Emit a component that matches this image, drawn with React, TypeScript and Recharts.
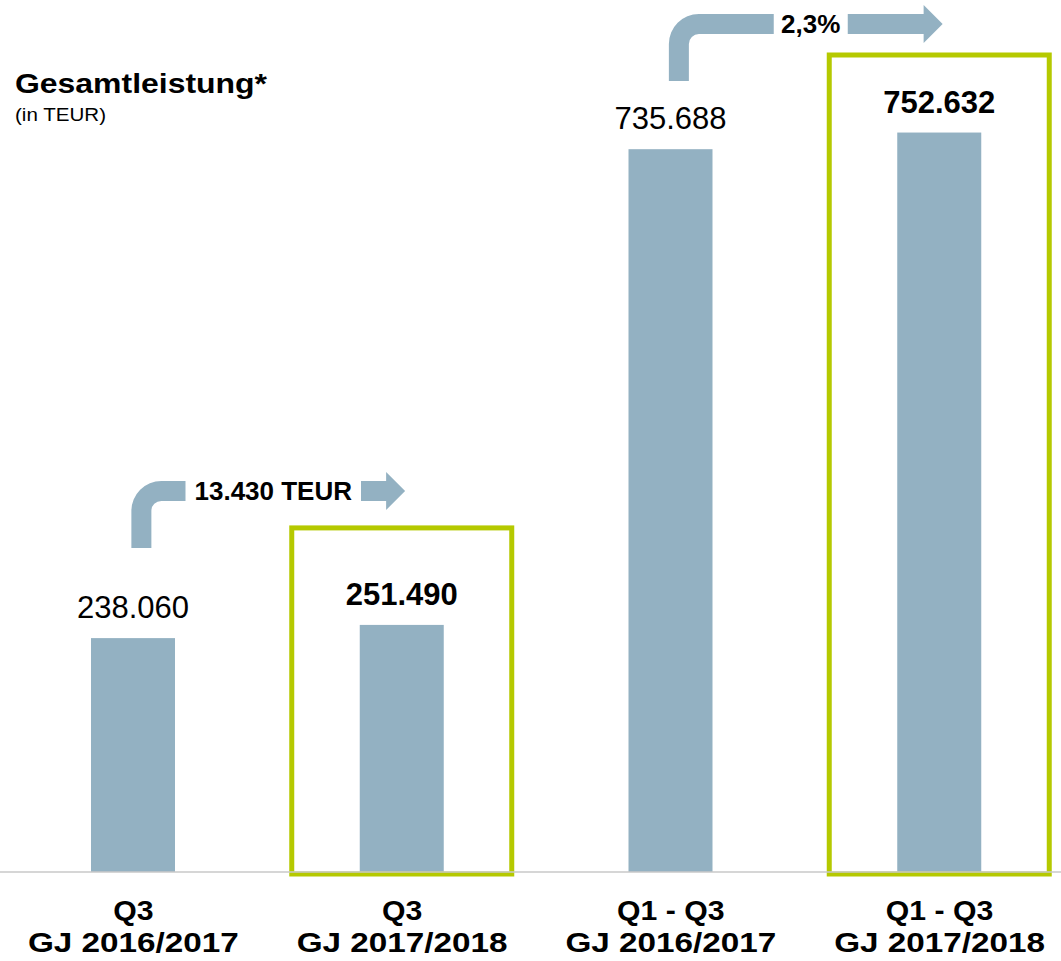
import { Bar, BarChart, XAxis, YAxis, ReferenceArea } from "recharts"

const categoryTop = ["Q3", "Q3", "Q1 - Q3", "Q1 - Q3"]
const categoryBottom = ["GJ 2016/2017", "GJ 2017/2018", "GJ 2016/2017", "GJ 2017/2018"]
const values = [238060, 251490, 735688, 752632]
const highlighted = [false, true, false, true]
const changePairs = [[0, 1], [2, 3]]
const changeLabels = ["13.430 TEUR", "2,3%"]
const yDomain = [0, 800000]

const BAR_COLOR = "#93b1c2"
const GREEN = "#b5c900"
const FONT = "'Liberation Sans', Arial, sans-serif"

const data = values.map((v, i) => ({
    name: categoryTop[i] + "\n" + categoryBottom[i],
    value: v,
    highlight: highlighted[i],
}))

const fmt = (v: number) => String(v).replace(/\B(?=(\d{3})+(?!\d))/g, ".")

const BarShape = (props: any) => {
    const { x, y, width, height, payload } = props
    const cx = x + width / 2
    const boxTop = Math.max(y - 97, 55)
    return (
        <g>
            <rect x={x} y={y} width={width} height={height} fill={BAR_COLOR} />
            {payload.highlight && (
                <rect x={cx - 110} y={boxTop} width={220} height={y + height + 2 - boxTop}
                    fill="none" stroke={GREEN} strokeWidth={5} />
            )}
            <text x={cx} y={y - 20} textAnchor="middle" fontSize={31} fontFamily={FONT}
                fontWeight={payload.highlight ? "bold" : "normal"} fill="#000">
                {fmt(payload.value)}
            </text>
        </g>
    )
}

const makeArrow = (vA: number, vB: number, label: string) => (props: any) => {
    const { x, y, width, height } = props
    const base = y + height
    const k = height / Math.max(vA, vB)
    const topA = base - vA * k
    const topB = base - vB * k
    const band = width / 2
    const sx = x + band / 2 + 8
    const tip = x + band * 1.5 + 3
    const mid = Math.max(24, Math.min(topA, topB) - 134)
    const bt = mid - 10
    const bb = mid + 10
    const stemBottom = bt + 67
    const R = 30
    const r = 10
    const head = tip - 19
    const d = [
        `M ${sx - 10} ${stemBottom}`,
        `L ${sx - 10} ${bt + R}`,
        `A ${R} ${R} 0 0 1 ${sx - 10 + R} ${bt}`,
        `L ${head} ${bt}`,
        `L ${head} ${mid - 19}`,
        `L ${tip} ${mid}`,
        `L ${head} ${mid + 19}`,
        `L ${head} ${bb}`,
        `L ${sx + 10 + r} ${bb}`,
        `A ${r} ${r} 0 0 0 ${sx + 10} ${bb + r}`,
        `L ${sx + 10} ${stemBottom}`,
        "Z",
    ].join(" ")
    const tx = (sx + tip) / 2
    const gap = label.length * 14.5 + 16
    return (
        <g>
            <path d={d} fill={BAR_COLOR} />
            <rect x={tx - gap / 2} y={bt - 1} width={gap} height={22} fill="#fff" />
            <text x={tx} y={mid + 9} textAnchor="middle" fontSize={26} fontWeight="bold"
                fontFamily={FONT} fill="#000">
                {label}
            </text>
        </g>
    )
}

const CategoryTick = (props: any) => {
    const { x, y, payload } = props
    const [top, bottom] = String(payload.value).split("\n")
    return (
        <g>
            <text x={x} y={y + 48} textAnchor="middle" fontSize={27} fontWeight="bold"
                fontFamily={FONT} fill="#000" transform={`translate(${x} 0) scale(1.12 1) translate(${-x} 0)`}>
                {top}
            </text>
            <text x={x} y={y + 80} textAnchor="middle" fontSize={27} fontWeight="bold"
                fontFamily={FONT} fill="#000" textLength={211} lengthAdjust="spacingAndGlyphs">
                {bottom}
            </text>
        </g>
    )
}

export default function App() {
    return (
        <div style={{ position: "absolute", left: 0, top: 0, width: 1061, height: 961, overflow: "hidden", background: "#fff" }}>
            <svg width={1061} height={961} style={{ position: "absolute", left: 0, top: 0, pointerEvents: "none" }}>
                <text x={15} y={93} fontSize={28} fontWeight="bold" fontFamily={FONT}
                    textLength={252} lengthAdjust="spacingAndGlyphs" fill="#000">
                    Gesamtleistung*
                </text>
                <text x={15} y={121} fontSize={18} fontFamily={FONT}
                    textLength={91} lengthAdjust="spacingAndGlyphs" fill="#000">
                    (in TEUR)
                </text>
            </svg>
            <div style={{ position: "absolute", left: -1, top: 0 }}>
                <BarChart width={1075} height={961} data={data}
                    margin={{ top: 86, right: 0, bottom: 0, left: 0 }}>
                    <XAxis dataKey="name" height={89} tickLine={false} tickSize={0} tickMargin={0}
                        axisLine={{ stroke: "#c8c8c8", strokeWidth: 1.5 }} tick={<CategoryTick />}
                        interval={0} />
                    <YAxis hide domain={yDomain} />
                    <Bar dataKey="value" barSize={84} shape={<BarShape />} isAnimationActive={false} />
                    {changePairs.map(([a, b], i) => (
                        <ReferenceArea key={i} x1={data[a].name} x2={data[b].name}
                            y1={0} y2={Math.max(values[a], values[b])} ifOverflow="visible"
                            shape={makeArrow(values[a], values[b], changeLabels[i])} />
                    ))}
                </BarChart>
            </div>
        </div>
    )
}
